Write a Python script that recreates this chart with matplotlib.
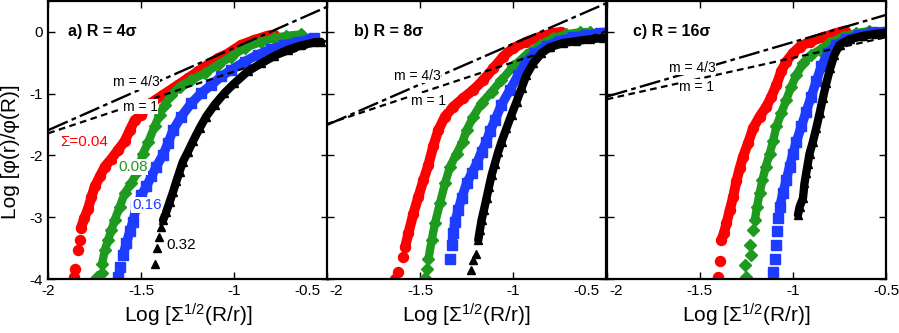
import matplotlib
matplotlib.use("Agg")
import matplotlib.pyplot as plt
import matplotlib.transforms as mtransforms

plt.rcParams['font.family'] = ['Liberation Sans', 'DejaVu Sans']
plt.rcParams['mathtext.fontset'] = 'custom'
plt.rcParams['mathtext.rm'] = 'Liberation Sans'
plt.rcParams['mathtext.it'] = 'Liberation Sans:italic'
plt.rcParams['axes.unicode_minus'] = False

# ---------------------------------------------
# Data (log-log values)
# ---------------------------------------------
# panel a) R = 4 sigma
a_red_x = [-1.861, -1.854, -1.839, -1.830, -1.825, -1.807, -1.786, -1.768, -1.750, -1.723, -1.696, -1.660,
           -1.625, -1.590, -1.562, -1.536, -1.500, -1.460, -1.384, -1.304, -1.250, -1.196, -1.143, -1.089,
           -1.036, -0.964, -0.893, -0.820, -0.786]
a_red_y = [-3.96, -3.83, -3.53, -3.37, -3.18, -3.02, -2.86, -2.67, -2.50, -2.34, -2.18, -2.05,
           -1.91, -1.77, -1.59, -1.43, -1.34, -1.17, -1.02, -0.86, -0.75, -0.64, -0.53, -0.43,
           -0.35, -0.21, -0.13, -0.06, -0.05]
a_grn_x = [-1.741, -1.714, -1.711, -1.696, -1.679, -1.661, -1.643, -1.616, -1.589, -1.554, -1.527, -1.509,
           -1.491, -1.464, -1.429, -1.402, -1.375, -1.339, -1.295, -1.232, -1.161, -1.089, -1.018, -0.946,
           -0.857, -0.786, -0.723, -0.643]
a_grn_y = [-3.96, -3.91, -3.75, -3.53, -3.37, -3.21, -3.04, -2.83, -2.61, -2.45, -2.29, -2.15,
           -1.97, -1.79, -1.53, -1.34, -1.18, -1.02, -0.885, -0.78, -0.67, -0.53, -0.40, -0.26,
           -0.16, -0.10, -0.065, -0.04]
a_blu_x = [-1.625, -1.616, -1.598, -1.580, -1.5625, -1.545, -1.527, -1.500, -1.473, -1.446, -1.420, -1.384,
           -1.357, -1.330, -1.286, -1.232, -1.179, -1.125, -1.071, -1.018, -0.946, -0.875, -0.804, -0.732,
           -0.661, -0.589, -0.571]
a_blu_y = [-3.96, -3.80, -3.61, -3.42, -3.23, -3.07, -2.83, -2.64, -2.50, -2.34, -2.18, -1.99,
           -1.80, -1.59, -1.37, -1.155, -0.99, -0.86, -0.72, -0.615, -0.48, -0.37, -0.28, -0.21,
           -0.16, -0.12, -0.10]
a_blk_x = [-1.425, -1.414, -1.405, -1.396, -1.384, -1.366, -1.348, -1.330, -1.3125, -1.295, -1.277, -1.250,
           -1.223, -1.1875, -1.152, -1.107, -1.054, -1.000, -0.929, -0.857, -0.786, -0.714, -0.643, -0.571,
           -0.536]
a_blk_y = [-3.75, -3.49, -3.32, -3.16, -3.05, -2.91, -2.75, -2.59, -2.42, -2.26, -2.10, -1.94,
           -1.77, -1.56, -1.37, -1.18, -0.99, -0.83, -0.64, -0.51, -0.39, -0.29, -0.22, -0.17,
           -0.16]

# panel b) R = 8 sigma
b_red_x = [-1.634, -1.616, -1.593, -1.580, -1.5625, -1.536, -1.509, -1.482, -1.455, -1.429, -1.402, -1.366,
           -1.321, -1.268, -1.214, -1.161, -1.107, -1.054, -1.000, -0.929, -0.857, -0.786, -0.741]
b_red_y = [-4.00, -3.88, -3.64, -3.48, -3.26, -2.94, -2.67, -2.40, -2.15, -1.85, -1.59, -1.37,
           -1.21, -1.07, -0.94, -0.78, -0.59, -0.40, -0.26, -0.16, -0.08, -0.02, 0.00]
b_grn_x = [-1.473, -1.464, -1.455, -1.4375, -1.420, -1.393, -1.366, -1.339, -1.304, -1.272, -1.250, -1.214,
           -1.170, -1.116, -1.063, -1.000, -0.929, -0.857, -0.786, -0.714, -0.643, -0.589]
b_grn_y = [-3.99, -3.83, -3.67, -3.37, -3.10, -2.77, -2.45, -2.18, -1.97, -1.78, -1.59, -1.37,
           -1.155, -0.97, -0.78, -0.56, -0.37, -0.21, -0.10, -0.04, -0.005, 0.00]
b_blu_x = [-1.339, -1.330, -1.321, -1.3125, -1.295, -1.277, -1.250, -1.223, -1.196, -1.170, -1.145, -1.125,
           -1.098, -1.063, -1.018, -0.973, -0.929, -0.884, -0.821, -0.750, -0.679, -0.607, -0.536, -0.509]
b_blu_y = [-3.67, -3.45, -3.26, -3.07, -2.88, -2.69, -2.45, -2.29, -2.13, -1.94, -1.78, -1.61,
           -1.43, -1.18, -0.94, -0.70, -0.48, -0.345, -0.23, -0.14, -0.086, -0.05, -0.02, -0.01]
b_blk_x = [-1.229, -1.214, -1.200, -1.1875, -1.179, -1.170, -1.157, -1.143, -1.130, -1.116, -1.098, -1.080,
           -1.0625, -1.036, -1.009, -0.982, -0.955, -0.929, -0.893, -0.848, -0.804, -0.732, -0.661, -0.589,
           -0.518]
b_blk_y = [-3.85, -3.69, -3.59, -3.37, -3.21, -3.05, -2.88, -2.69, -2.51, -2.32, -2.13, -1.94,
           -1.78, -1.56, -1.34, -1.13, -0.91, -0.70, -0.51, -0.345, -0.25, -0.18, -0.15, -0.12,
           -0.10]

# panel c) R = 16 sigma
c_red_x = [-1.402, -1.393, -1.384, -1.371, -1.357, -1.339, -1.321, -1.304, -1.286, -1.268, -1.241, -1.214,
           -1.179, -1.143, -1.116, -1.089, -1.063, -1.036, -1.000, -0.964, -0.911, -0.839, -0.768, -0.723]
c_red_y = [-3.96, -3.70, -3.37, -3.26, -3.10, -2.88, -2.67, -2.42, -2.21, -2.02, -1.80, -1.56,
           -1.37, -1.21, -1.05, -0.86, -0.64, -0.48, -0.345, -0.24, -0.16, -0.086, -0.02, 0.02]
c_grn_x = [-1.250, -1.259, -1.223, -1.229, -1.214, -1.205, -1.193, -1.179, -1.164, -1.146, -1.125, -1.107,
           -1.089, -1.063, -1.036, -1.009, -0.982, -0.946, -0.902, -0.857, -0.804, -0.732, -0.661, -0.589]
c_grn_y = [-3.96, -3.77, -3.61, -3.45, -3.21, -3.05, -2.83, -2.61, -2.40, -2.18, -1.97, -1.77,
           -1.53, -1.32, -1.10, -0.885, -0.70, -0.51, -0.37, -0.29, -0.18, -0.076, -0.02, 0.016]
c_blu_x = [-1.107, -1.098, -1.093, -1.086, -1.080, -1.071, -1.054, -1.036, -1.018, -1.000, -0.982, -0.955,
           -0.929, -0.902, -0.875, -0.848, -0.8125, -0.768, -0.714, -0.643, -0.571, -0.500]
c_blu_y = [-3.88, -3.67, -3.45, -3.23, -3.02, -2.83, -2.61, -2.40, -2.18, -1.97, -1.78, -1.53,
           -1.29, -1.05, -0.80, -0.56, -0.345, -0.21, -0.12, -0.05, -0.005, 0.005]
c_blk_x = [-0.973, -0.964, -0.946, -0.938, -0.929, -0.920, -0.911, -0.893, -0.875, -0.857, -0.839, -0.821,
           -0.800, -0.777, -0.750, -0.696, -0.625, -0.554, -0.491]
c_blk_y = [-2.96, -2.83, -2.69, -2.45, -2.29, -2.13, -1.97, -1.78, -1.56, -1.32, -1.07, -0.83,
           -0.59, -0.37, -0.21, -0.12, -0.065, -0.03, -0.01]

# number of isolated markers at the low end of each curve (red, green, blue, black)
loose_a = [4, 2, 2, 4]
loose_b = [3, 2, 1, 3]
loose_c = [2, 5, 5, 0]

# guide lines (x ends, y ends): m = 4/3 and m = 1
guide_x = [-2.0, -0.5]
a_m43_y = [-1.59, 0.41]
a_m1_y = [-1.64, -0.14]
b_m43_y = [-1.506, 0.464]
b_m1_y = [-1.49, 0.01]
c_m43_y = [-1.047, 0.275]
c_m1_y = [-1.09, -0.086]

titles = ["a) R = 4σ", "b) R = 8σ", "c) R = 16σ"]
sigma_labels = ["Σ=0.04", "0.08", "0.16", "0.32"]
xticks = [-2, -1.5, -1, -0.5]
xtick_labels = ["-2", "-1.5", "-1", "-0.5"]
yticks = [0, -1, -2, -3, -4]
ytick_labels = ["0", "-1", "-2", "-3", "-4"]

colors = ["#ff0000", "#1e9a1e", "#1e3cff", "#000000"]
markers = ["o", "D", "s", "^"]
msizes = [7.2, 6.0, 6.8, 6.0]

fig = plt.figure(figsize=(8.99, 3.33), dpi=100)
lefts = [0.0537, 0.3637, 0.6749]
axes = [fig.add_axes([l, 0.162, 0.3107, 0.835]) for l in lefts]

panels = [
    ([(a_red_x, a_red_y), (a_grn_x, a_grn_y), (a_blu_x, a_blu_y), (a_blk_x, a_blk_y)], loose_a, a_m43_y, a_m1_y),
    ([(b_red_x, b_red_y), (b_grn_x, b_grn_y), (b_blu_x, b_blu_y), (b_blk_x, b_blk_y)], loose_b, b_m43_y, b_m1_y),
    ([(c_red_x, c_red_y), (c_grn_x, c_grn_y), (c_blu_x, c_blu_y), (c_blk_x, c_blk_y)], loose_c, c_m43_y, c_m1_y),
]

# label positions (data coords)
m43_pos = [(-1.653, -0.81), (-1.64, -0.71), (-1.666, -0.58)]
m1_pos = [(-1.60, -1.21), (-1.55, -1.12), (-1.61, -0.89)]
title_x = [-1.895, -1.855, -1.857]

for i, ax in enumerate(axes):
    series, loose, m43, m1 = panels[i]

    for k, (xs, ys) in enumerate(series):
        n = loose[k]
        ax.plot(xs[n:], ys[n:], '-', color=colors[k], lw=msizes[k],
                solid_capstyle='round', solid_joinstyle='round', zorder=2 + k * 0.1)
        ax.plot(xs, ys, ls='none', marker=markers[k], ms=msizes[k], color=colors[k],
                mec=colors[k], zorder=2 + k * 0.1)

    ax.plot(guide_x, m43, color='black', lw=1.7, ls=(0, (9, 1.8, 2, 1.8)), zorder=3)
    ax.plot(guide_x, m1, color='black', lw=1.6, ls=(0, (3, 2)), zorder=3)

    bb = dict(facecolor='white', edgecolor='none', pad=0.5)
    ax.text(m43_pos[i][0], m43_pos[i][1], "m = 4/3", fontsize=10, va='center', ha='left', bbox=bb, zorder=4)
    ax.text(m1_pos[i][0], m1_pos[i][1], "m = 1", fontsize=10, va='center', ha='left', bbox=bb, zorder=4)

    ax.text(title_x[i], 0.0, titles[i], fontsize=11.5, fontweight='bold', va='center', ha='left', zorder=4)

    ax.set_xlim(-2, -0.5)
    ax.set_ylim(-4, 0.5)
    ax.set_xticks(xticks)
    ax.set_xticklabels(xtick_labels)
    ax.set_yticks(yticks)
    if i == 0:
        ax.set_yticklabels(ytick_labels)
        ax.set_ylabel("Log [φ(r)/φ(R)]", fontsize=15)
        ax.yaxis.set_label_coords(-0.10, 0.457)
    else:
        ax.set_yticklabels([])
    ax.set_xlabel("Log [Σ$^{1/2}$(R/r)]", fontsize=15, labelpad=3)

    ax.tick_params(direction='in', top=True, right=True, length=5, width=1, labelsize=11)
    ax.tick_params(axis='y', pad=4)
    for s in ax.spines.values():
        s.set_linewidth(1.6)

    labels = ax.get_xticklabels()
    if i < 2:
        labels[-1].set_horizontalalignment('right')
        labels[-1].set_transform(labels[-1].get_transform() +
                                 mtransforms.ScaledTranslation(-5 / 72, 0, fig.dpi_scale_trans))
    if i > 0:
        labels[0].set_horizontalalignment('left')
        labels[0].set_transform(labels[0].get_transform() +
                                mtransforms.ScaledTranslation(2 / 72, 0, fig.dpi_scale_trans))

# curve labels in panel a
ax = axes[0]
lab_bb = dict(facecolor='white', edgecolor='none', pad=0.5)
ax.text(-1.937, -1.78, sigma_labels[0], color=colors[0], fontsize=11, va='center', ha='left', bbox=lab_bb, zorder=5)
ax.text(-1.626, -2.19, sigma_labels[1], color=colors[1], fontsize=11, va='center', ha='left', bbox=lab_bb, zorder=5)
ax.text(-1.551, -2.80, sigma_labels[2], color=colors[2], fontsize=11, va='center', ha='left', bbox=lab_bb, zorder=5)
ax.text(-1.364, -3.45, sigma_labels[3], color=colors[3], fontsize=11, va='center', ha='left', bbox=lab_bb, zorder=5)

fig.savefig("out.png", dpi=100)
